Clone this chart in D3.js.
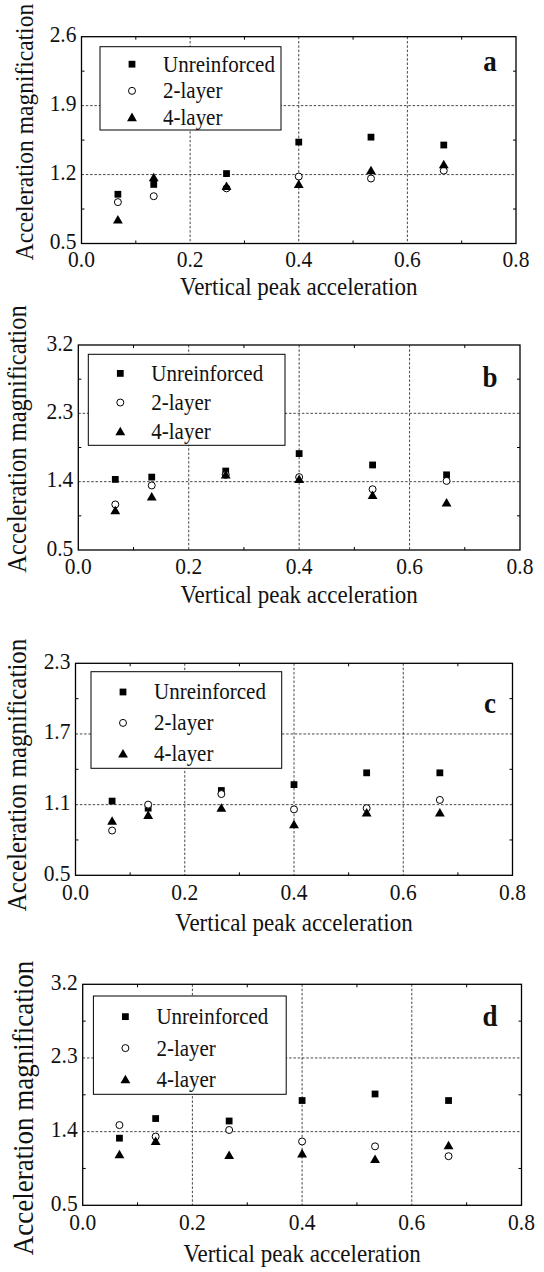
<!DOCTYPE html>
<html>
<head>
<meta charset="utf-8">
<script src="https://cdn.jsdelivr.net/npm/d3@7"></script>
<style>
body{margin:0;background:#fff}
svg{display:block;font-family:"Liberation Serif","Times New Roman",serif}
</style>
</head>
<body>
<svg id="chart" width="544" height="1272"></svg>
<script>
// x positions of the six tests (vertical peak acceleration)
const xVals = [0.067, 0.133, 0.267, 0.4, 0.533, 0.667];
const xTicks = [0.0, 0.2, 0.4, 0.6, 0.8];
const seriesNames = ["Unreinforced", "2-layer", "4-layer"];

// panel a
const yTicksA = [0.5, 1.2, 1.9, 2.6];
const unreinforcedA = [1.00, 1.10, 1.21, 1.53, 1.58, 1.50];
const twoLayerA     = [0.92, 0.98, 1.06, 1.18, 1.16, 1.24];
const fourLayerA    = [0.74, 1.17, 1.08, 1.10, 1.24, 1.30];
// panel b
const yTicksB = [0.5, 1.4, 2.3, 3.2];
const unreinforcedB = [1.43, 1.46, 1.54, 1.77, 1.62, 1.49];
const twoLayerB     = [1.10, 1.35, 1.49, 1.46, 1.30, 1.41];
const fourLayerB    = [1.02, 1.20, 1.49, 1.43, 1.22, 1.12];
// panel c
const yTicksC = [0.5, 1.1, 1.7, 2.3];
const unreinforcedC = [1.13, 1.07, 1.22, 1.27, 1.37, 1.37];
const twoLayerC     = [0.88, 1.10, 1.19, 1.06, 1.07, 1.14];
const fourLayerC    = [0.96, 1.01, 1.07, 0.93, 1.03, 1.03];
// panel d
const yTicksD = [0.5, 1.4, 2.3, 3.2];
const unreinforcedD = [1.32, 1.56, 1.53, 1.78, 1.86, 1.78];
const twoLayerD     = [1.48, 1.34, 1.42, 1.28, 1.22, 1.10];
const fourLayerD    = [1.12, 1.28, 1.11, 1.13, 1.06, 1.23];

const panels = [
  {label:"a", yTicks:yTicksA, series:[unreinforcedA, twoLayerA, fourLayerA],
   box:{l:81.5, r:516, t:36.7, b:243.5}, legend:{l:100, r:281, t:46.7, b:130},
   tickY:267, titleY:295, yTitle:{x:33, y:132, size:23.5}, labelY:70.7},
  {label:"b", yTicks:yTicksB, series:[unreinforcedB, twoLayerB, fourLayerB],
   box:{l:78.3, r:520, t:345, b:550}, legend:{l:88.3, r:285, t:354.3, b:445.3},
   tickY:574, titleY:603, yTitle:{x:26, y:439, size:24.5}, labelY:386.7},
  {label:"c", yTicks:yTicksC, series:[unreinforcedC, twoLayerC, fourLayerC],
   box:{l:75.5, r:512.5, t:663.3, b:875.3}, legend:{l:91, r:281.7, t:671.7, b:768.3},
   tickY:900, titleY:931, yTitle:{x:26, y:775, size:25}, labelY:713},
  {label:"d", yTicks:yTicksD, series:[unreinforcedD, twoLayerD, fourLayerD],
   box:{l:82.7, r:521.5, t:984.3, b:1205.3}, legend:{l:93.4, r:286.2, t:996, b:1094.3},
   tickY:1230, titleY:1262, yTitle:{x:33, y:1108, size:27}, labelY:1026}
];

const svg = d3.select("#chart");
const fmt = d3.format(".1f");
const sqr = d3.symbol().type(d3.symbolSquare).size(46);
const tri = d3.symbol().type(d3.symbolTriangle).size(42);
const STRETCH = 1.1; // glyphs in the scan are a bit taller than wide

function marker(g, k, cx, cy) {
  if (k === 0) {
    g.append("path").attr("d", sqr).attr("transform", `translate(${cx},${cy})`).attr("fill", "#000");
  } else if (k === 1) {
    g.append("circle").attr("cx", cx).attr("cy", cy).attr("r", 3.5)
      .attr("fill", "#fff").attr("stroke", "#000").attr("stroke-width", 1);
  } else {
    g.append("path").attr("d", tri).attr("transform", `translate(${cx},${cy + 0.8})`).attr("fill", "#000");
  }
}

function label(g, x, y, size, txt, anchor) {
  return g.append("text").attr("transform", `translate(${x},${y}) scale(1,${STRETCH})`)
    .attr("text-anchor", anchor || "start").attr("font-size", size).attr("fill", "#111").text(txt);
}

panels.forEach(p => {
  const B = p.box;
  const g = svg.append("g");
  const x = d3.scaleLinear().domain([0, 0.8]).range([B.l, B.r]);
  const y = d3.scaleLinear().domain([p.yTicks[0], p.yTicks[p.yTicks.length-1]]).range([B.b, B.t]);
  const yStep = p.yTicks[1] - p.yTicks[0];

  // dashed grid at inner major ticks
  g.selectAll(".gx").data(xTicks.slice(1, -1)).join("line")
    .attr("x1", d => x(d)).attr("x2", d => x(d)).attr("y1", B.t).attr("y2", B.b)
    .attr("stroke", "#333").attr("stroke-width", 0.9).attr("stroke-dasharray", "2.5,1.8");
  g.selectAll(".gy").data(p.yTicks.slice(1, -1)).join("line")
    .attr("x1", B.l).attr("x2", B.r).attr("y1", d => y(d)).attr("y2", d => y(d))
    .attr("stroke", "#333").attr("stroke-width", 0.9).attr("stroke-dasharray", "2.5,1.8");

  // minor ticks, inward on all sides
  const xMinor = [0.1, 0.3, 0.5, 0.7];
  const yMinor = p.yTicks.slice(0, -1).map(v => v + yStep / 2);
  xMinor.forEach(v => {
    g.append("line").attr("x1", x(v)).attr("x2", x(v)).attr("y1", B.b).attr("y2", B.b - 3).attr("stroke", "#000");
    g.append("line").attr("x1", x(v)).attr("x2", x(v)).attr("y1", B.t).attr("y2", B.t + 3).attr("stroke", "#000");
  });
  yMinor.forEach(v => {
    g.append("line").attr("x1", B.l).attr("x2", B.l + 3).attr("y1", y(v)).attr("y2", y(v)).attr("stroke", "#000");
    g.append("line").attr("x1", B.r).attr("x2", B.r - 3).attr("y1", y(v)).attr("y2", y(v)).attr("stroke", "#000");
  });

  // legend box (white, hides grid)
  const L = p.legend;
  g.append("rect").attr("x", L.l).attr("y", L.t).attr("width", L.r - L.l).attr("height", L.b - L.t)
    .attr("fill", "#fff").attr("stroke", "#000").attr("stroke-width", 1);
  seriesNames.forEach((name, k) => {
    const cy = L.t + (L.b - L.t) * (0.21 + 0.32 * k);
    marker(g, k, L.l + 32, cy);
    label(g, L.l + 63, cy + 7.5, 21, name);
  });

  // frame
  g.append("rect").attr("x", B.l).attr("y", B.t).attr("width", B.r - B.l).attr("height", B.b - B.t)
    .attr("fill", "none").attr("stroke", "#000").attr("stroke-width", 1.3);

  // points
  p.series.forEach((vals, k) => {
    vals.forEach((v, i) => marker(g, k, x(xVals[i]), y(v)));
  });

  // tick labels
  xTicks.forEach(d => label(g, x(d), p.tickY, 21.5, fmt(d), "middle"));
  p.yTicks.forEach(d => label(g, B.l - 5, y(d) + 5.5, 21.5, fmt(d), "end"));

  // axis titles
  label(g, (B.l + B.r) / 2, p.titleY, 23, "Vertical peak acceleration", "middle");
  g.append("text").attr("transform", `translate(${p.yTitle.x},${p.yTitle.y}) rotate(-90) scale(1,${STRETCH})`)
    .attr("text-anchor", "middle").attr("font-size", p.yTitle.size).attr("fill", "#111")
    .text("Acceleration magnification");

  // panel letter
  label(g, 490, p.labelY, 27, p.label, "middle").attr("font-weight", "bold");
});
</script>
</body>
</html>
